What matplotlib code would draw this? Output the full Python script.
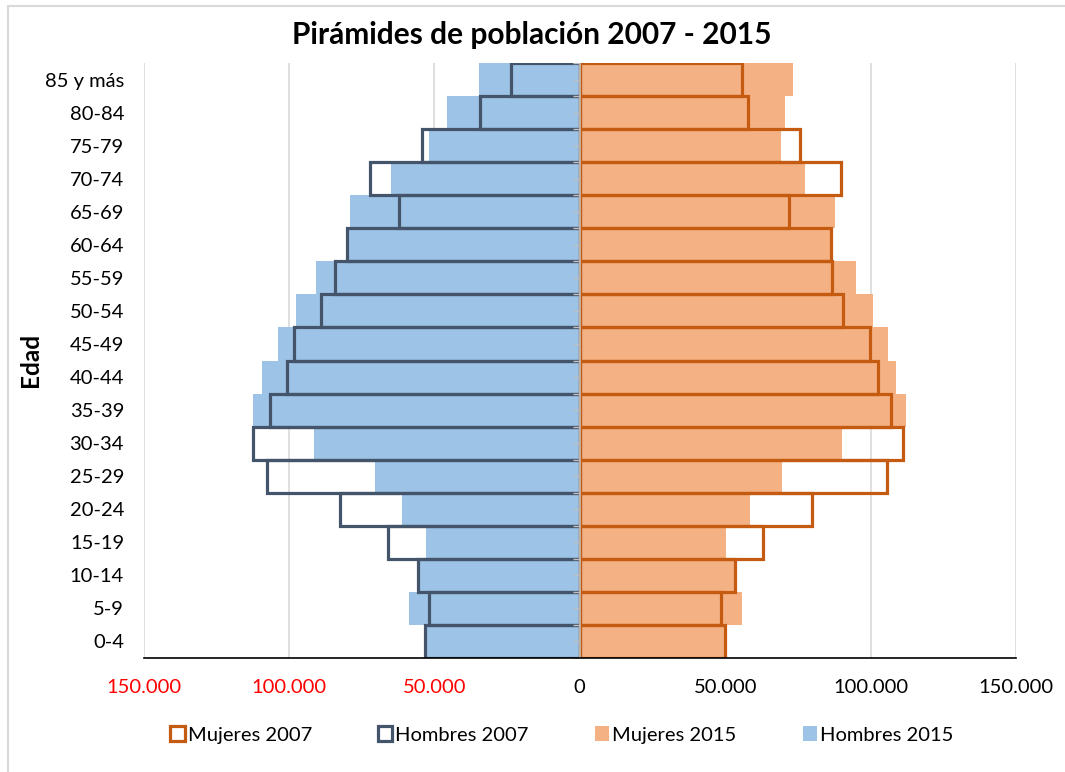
import numpy as np
import matplotlib.pyplot as plt
from matplotlib.patches import Patch, Rectangle

plt.rcParams['font.family'] = ['Lato', 'DejaVu Sans']

edades = ['0-4', '5-9', '10-14', '15-19', '20-24', '25-29', '30-34', '35-39',
          '40-44', '45-49', '50-54', '55-59', '60-64', '65-69', '70-74',
          '75-79', '80-84', '85 y más']

# valores de abajo (0-4) hacia arriba (85 y más)
hombres_2015 = [53300, 58600, 55300, 52900, 61000, 70400, 91500, 112500, 109100,
                103700, 97500, 90700, 79300, 79000, 64900, 51750, 45700, 34700]
hombres_2007 = [53300, 52000, 55700, 66100, 82400, 107700, 112300, 106600, 100800,
                98400, 89000, 84100, 79900, 62300, 72000, 54400, 34400, 23700]
mujeres_2015 = [49700, 55700, 53000, 50300, 58700, 69500, 90300, 112100, 108800,
                106000, 100800, 95100, 85900, 87900, 77400, 69200, 70650, 73400]
mujeres_2007 = [50000, 48600, 53300, 62900, 79800, 105600, 111300, 106900, 102600,
                99800, 90600, 86900, 86300, 71900, 89700, 75600, 58000, 55700]

ticks = [-150000, -100000, -50000, 0, 50000, 100000, 150000]
tick_labels = ['150.000', '100.000', '50.000', '0', '50.000', '100.000', '150.000']

c_muj = '#C55A11'
c_hom = '#44546A'
f_muj = '#F4B183'
f_hom = '#9DC3E6'

fig = plt.figure(figsize=(10.65, 7.72), dpi=100)
ax = fig.add_axes([143.5 / 1065, 1 - 658 / 772, (1016 - 143.5) / 1065, (658 - 63) / 772])

y = np.arange(len(edades))

ax.barh(y, -np.array(hombres_2015), height=1.0, color=f_hom, zorder=2)
ax.barh(y, mujeres_2015, height=1.0, color=f_muj, zorder=2)
ax.barh(y, -np.array(hombres_2007), height=1.0, fill=False, edgecolor=c_hom,
        linewidth=2.3, zorder=3)
ax.barh(y, mujeres_2007, height=1.0, fill=False, edgecolor=c_muj,
        linewidth=2.3, zorder=3)

ax.set_xlim(-150000, 150000)
ax.set_ylim(-0.5, len(edades) - 0.5)

for t in ticks:
    if t != 0:
        ax.axvline(t, color='#D9D9D9', linewidth=1.2, zorder=1)
ax.axvline(0, color='#BFBFBF', linewidth=1.2, zorder=4)
ax.plot(np.zeros(len(edades) * 2 + 1) - 1200, np.arange(-0.5, len(edades), 0.5),
        linestyle='none', marker='_', markersize=5, color='#BFBFBF', zorder=4)

ax.set_xticks(ticks)
ax.set_xticklabels(tick_labels, fontsize=14.5)
for lbl, t in zip(ax.get_xticklabels(), ticks):
    lbl.set_color('red' if t < 0 else 'black')
ax.tick_params(axis='x', length=0, pad=15)

ax.set_yticks(y)
ax.set_yticklabels(edades, fontsize=14.5)
ax.tick_params(axis='y', length=0, pad=14)

for s in ['top', 'right', 'left']:
    ax.spines[s].set_visible(False)
ax.spines['bottom'].set_color('black')
ax.spines['bottom'].set_linewidth(1.2)
ax.spines['bottom'].set_zorder(5)

fig.text(30 / 1065, 1 - 360 / 772, 'Edad', rotation=90, fontsize=17.5,
         fontweight='bold', ha='center', va='center')
fig.text(532 / 1065, 1 - 35 / 772, 'Pirámides de población 2007 - 2015',
         fontsize=21.5, fontweight='bold', ha='center', va='center')

handles = [
    Patch(facecolor='white', edgecolor=c_muj, linewidth=2.3, label='Mujeres 2007'),
    Patch(facecolor='white', edgecolor=c_hom, linewidth=2.3, label='Hombres 2007'),
    Patch(facecolor=f_muj, edgecolor='none', label='Mujeres 2015'),
    Patch(facecolor=f_hom, edgecolor='none', label='Hombres 2015'),
]
fig.legend(handles=handles, loc='center', bbox_to_anchor=(562 / 1065, 1 - 735 / 772),
           ncol=4, frameon=False, fontsize=14.5, handlelength=0.7, handleheight=0.7,
           handletextpad=0.15, columnspacing=3.3)

fig.patches.append(Rectangle((8 / 1065, -0.05), 1.2, 1 - 6 / 772 + 0.05,
                             transform=fig.transFigure, fill=False,
                             edgecolor='#D9D9D9', linewidth=1.5))

fig.savefig('out.png', dpi=100)
